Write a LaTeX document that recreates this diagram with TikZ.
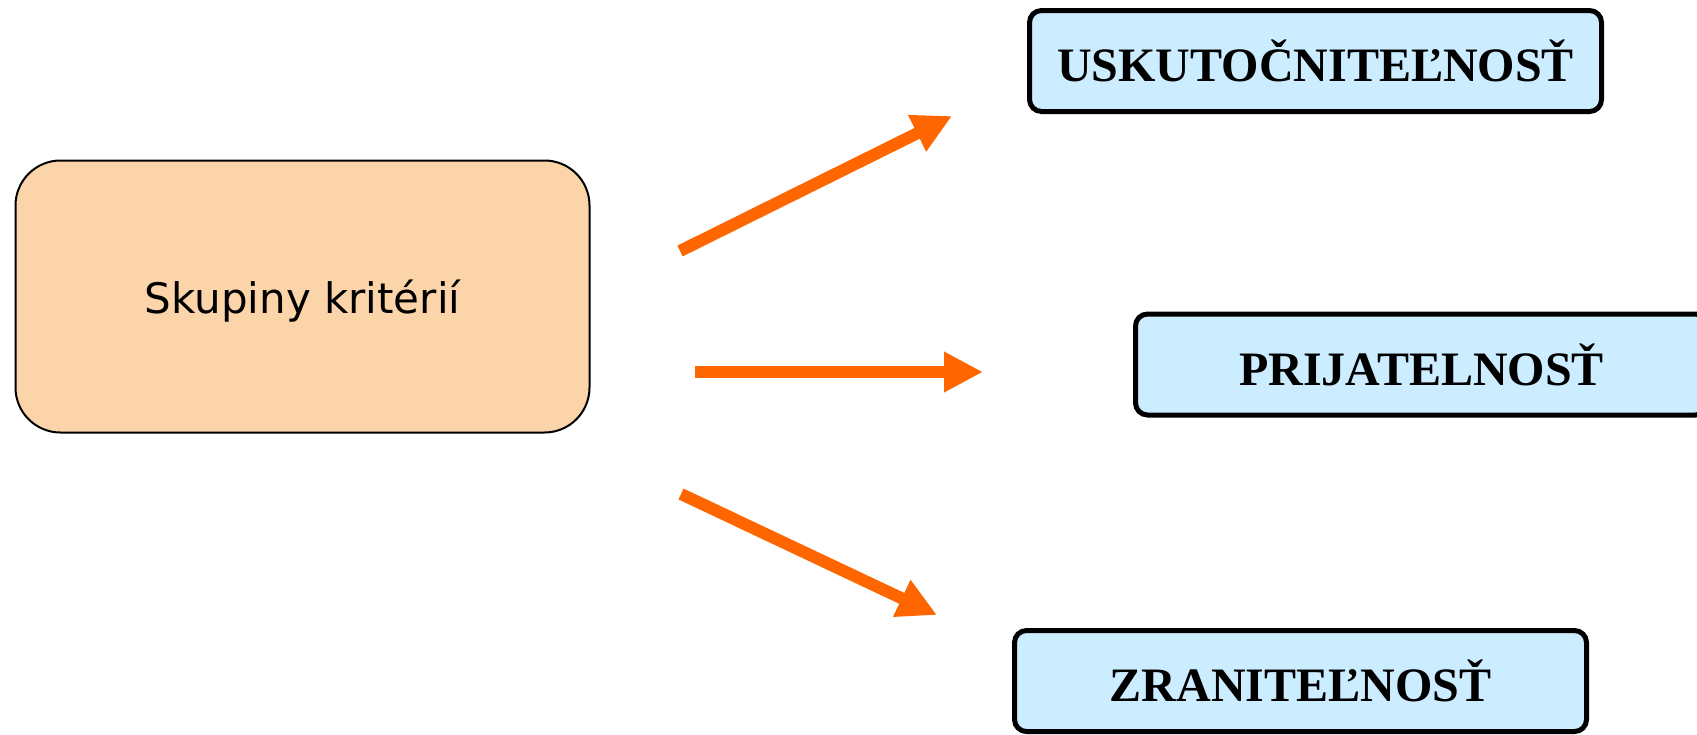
\documentclass[tikz,border=0pt]{standalone}
\usepackage{fontspec}
\setmainfont{Liberation Serif}
\newfontfamily\grpfont{DejaVu Sans}
\usetikzlibrary{arrows.meta}
\definecolor{peach}{RGB}{252,212,170}
\definecolor{sky}{RGB}{204,236,255}
\definecolor{flame}{RGB}{255,102,0}

\begin{document}
\begin{tikzpicture}[x=1pt,y=-1pt,
  grp/.style={draw,rounded corners=45pt,fill=peach,line width=2pt,minimum width=574pt,minimum height=272pt,text depth=0pt,font=\grpfont\fontsize{42}{50}\selectfont},
  crit/.style={draw,rounded corners=12pt,fill=sky,line width=5pt,minimum width=572pt,minimum height=101pt,font=\bfseries\fontsize{48}{56}\selectfont},
  arr/.style={flame,line width=12pt,-{Triangle[length=39pt,width=38pt]}}]
  \useasboundingbox (0,0) rectangle (1697,734);
  \clip (0,0) rectangle (1697,734);
  \node[grp] (grp) at (302.5,296.5) {Skupiny kritérií};
  \node[crit] (usk) at (1315.5,61) {USKUTOČNITEĽNOSŤ};
  \node[crit] (pri) at (1421.5,364.5) {PRIJATELNOSŤ};
  \node[crit] (zra) at (1300.5,681) {ZRANITEĽNOSŤ};
  % free-standing arrows between the groups
  \coordinate (a1) at (680,251); \coordinate (b1) at (952,116);
  \coordinate (a2) at (695,372); \coordinate (b2) at (983,372);
  \coordinate (a3) at (681,494); \coordinate (b3) at (937,615);
  \draw[arr] (a1) -- (b1);
  \draw[arr] (a2) -- (b2);
  \draw[arr] (a3) -- (b3);
\end{tikzpicture}
\end{document}
